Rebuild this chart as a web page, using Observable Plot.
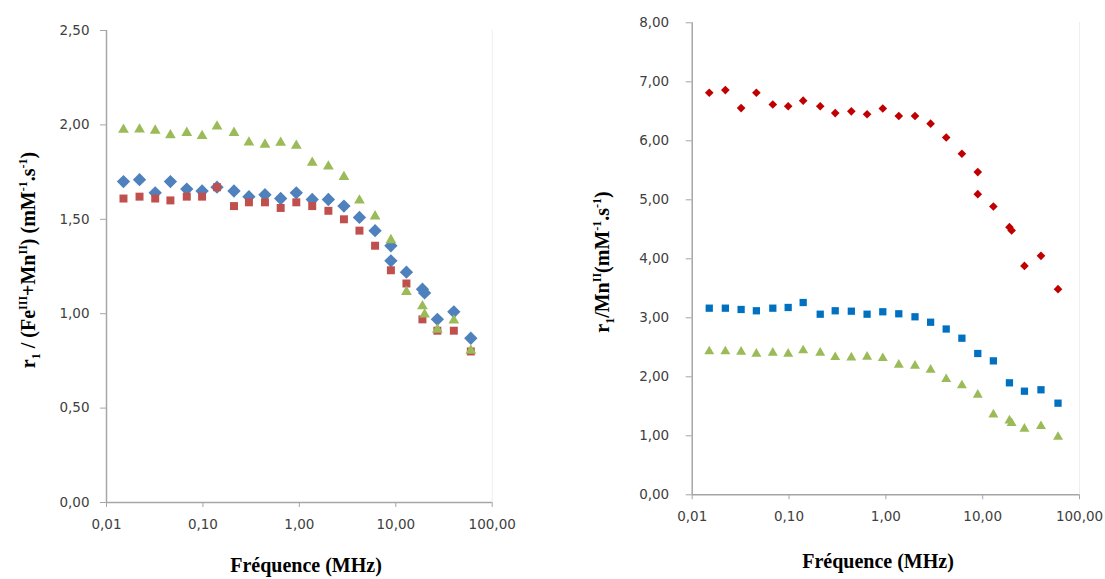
<!DOCTYPE html>
<html>
<head>
<meta charset="utf-8">
<script src="https://cdn.jsdelivr.net/npm/d3@7"></script>
<script src="https://cdn.jsdelivr.net/npm/@observablehq/plot@0.6"></script>
<style>
  html, body { margin: 0; padding: 0; background: #fff; }
  #wrap { position: relative; width: 1105px; height: 579px; overflow: hidden; background: #fff; }
  .panel { position: absolute; top: 0; }
  .ttl { position: absolute; font-family: "Liberation Serif", "Times New Roman", serif; font-weight: bold;
         font-size: 20px; line-height: 1; white-space: nowrap; color: #000; }
  .ytitle { transform: translate(-50%, -50%) rotate(-90deg); }
  .xtitle { transform: translate(-50%, -50%); }
  .ttl sup, .ttl sub { font-size: 0.6em; line-height: 0; }
</style>
</head>
<body>
<div id="wrap"></div>
<script>
// ---------- data ----------
const freq = [0.015, 0.022, 0.032, 0.046, 0.068, 0.098, 0.14, 0.21, 0.30, 0.44, 0.64, 0.93,
              1.36, 2.0, 2.9, 4.2, 6.1, 8.9, 8.9, 12.9, 18.9, 19.9, 27, 40, 60];
const xTicks = [0.01, 0.1, 1, 10, 100];

// left panel : r1 / (Fe(III)+Mn(II))
const leftDiamond  = [1.70, 1.71, 1.64, 1.70, 1.66, 1.65, 1.67, 1.65, 1.62, 1.63, 1.61, 1.64,
                      1.605, 1.605, 1.57, 1.51, 1.44, 1.36, 1.28, 1.22, 1.13, 1.11, 0.97, 1.01, 0.87];
const leftSquare   = [1.61, 1.62, 1.61, 1.60, 1.62, 1.62, 1.67, 1.57, 1.59, 1.59, 1.56, 1.59,
                      1.57, 1.545, 1.50, 1.44, 1.36, 1.23, null, 1.16, 0.97, null, 0.91, 0.91, 0.80];
const leftTriangle = [1.975, 1.976, 1.97, 1.946, 1.958, 1.942, 1.992, 1.958, 1.907, 1.896, 1.906, 1.89,
                      1.80, 1.78, 1.724, 1.60, 1.516, 1.39, null, 1.116, 1.04, 0.996, 0.916, 0.964, 0.805];
const leftYTicks = [0, 0.5, 1, 1.5, 2, 2.5];

// right panel : r1 / Mn(II)
const rightDiamond  = [6.815, 6.86, 6.555, 6.815, 6.615, 6.585, 6.68, 6.585, 6.47, 6.50, 6.45, 6.547,
                       6.42, 6.42, 6.29, 6.056, 5.78, 5.47, 5.095, 4.886, 4.536, 4.48, 3.88, 4.05, 3.485];
const rightSquare   = [3.163, 3.163, 3.141, 3.119, 3.163, 3.175, 3.259, 3.061, 3.119, 3.112, 3.061, 3.102,
                       3.068, 3.017, 2.925, 2.81, 2.654, 2.395, null, 2.27, 1.898, null, 1.756, 1.78, 1.553];
const rightTriangle = [2.43, 2.43, 2.424, 2.39, 2.407, 2.39, 2.446, 2.407, 2.332, 2.327, 2.339, 2.315,
                       2.203, 2.186, 2.119, 1.96, 1.853, 1.695, null, 1.361, 1.259, 1.214, 1.119, 1.163, 0.98];
const rightYTicks = [0, 1, 2, 3, 4, 5, 6, 7, 8];

// ---------- helpers ----------
const fmt = d => d3.format(".2f")(d).replace(".", ",");
const rows = arr => freq.map((f, i) => ({f, v: arr[i]})).filter(d => d.v != null);
const axisCol = "#a6a6a6";

function panel(o) {
  return Plot.plot({
    width: o.width, height: 579,
    marginLeft: o.ml, marginRight: o.mr, marginTop: o.mt, marginBottom: o.mb,
    style: {fontFamily: "DejaVu Sans", fontSize: "13.5px", color: "#404040", background: "transparent", overflow: "visible"},
    x: {type: "log", domain: [0.01, 100]},
    y: {domain: o.yDomain},
    marks: [
      Plot.ruleX([100], {stroke: "#eeeeee", strokeWidth: 1}),
      Plot.axisY({ticks: o.yTicks, tickFormat: fmt, tickSize: 6, tickPadding: o.yPad, stroke: axisCol, label: null}),
      Plot.axisX({ticks: xTicks, tickFormat: fmt, tickSize: 5, tickPadding: 12, stroke: axisCol, label: null}),
      Plot.ruleX([0.01], {stroke: axisCol, strokeWidth: 1.5}),
      Plot.ruleY([o.yDomain[0]], {stroke: axisCol, strokeWidth: 1.5}),
      ...o.series.map(s => Plot.dot(rows(s.data), {x: "f", y: "v", symbol: s.symbol, r: s.r, fill: s.color, stroke: "none"}))
    ]
  });
}

const wrap = document.getElementById("wrap");

const left = panel({
  width: 552, ml: 106, mr: 60.3, mt: 30, mb: 77, yDomain: [0, 2.5], yTicks: leftYTicks, yPad: 11,
  series: [
    {data: leftDiamond,  symbol: "diamond2", r: 6.0, color: "#4F81BD"},
    {data: leftSquare,   symbol: "square",   r: 4.5, color: "#C0504D"},
    {data: leftTriangle, symbol: "triangle", r: 4.0, color: "#9BBB59"}
  ]
});
left.classList.add("panel"); left.style.left = "0px";
wrap.appendChild(left);

const right = panel({
  width: 553, ml: 139.7, mr: 26, mt: 22.3, mb: 84.7, yDomain: [0, 8], yTicks: rightYTicks, yPad: 17,
  series: [
    {data: rightDiamond,  symbol: "diamond2", r: 3.9, color: "#C00000"},
    {data: rightSquare,   symbol: "square",   r: 4.1, color: "#0070C0"},
    {data: rightTriangle, symbol: "triangle", r: 3.7, color: "#9BBB59"}
  ]
});
right.classList.add("panel"); right.style.left = "552px";
wrap.appendChild(right);

// ---------- titles ----------
function title(html, x, y, cls) {
  const d = document.createElement("div");
  d.className = "ttl " + cls;
  d.innerHTML = html;
  d.style.left = x + "px"; d.style.top = y + "px";
  wrap.appendChild(d);
}
title("r<sub>1</sub> / (Fe<sup>III</sup>+Mn<sup>II</sup>) (mM<sup>-1</sup>.s<sup>-1</sup>)", 28, 260, "ytitle");
title("r<sub>1</sub>/Mn<sup>II</sup>(mM<sup>-1</sup>.s<sup>-1</sup>)", 602, 262, "ytitle");
title("Fréquence (MHz)", 306, 565, "xtitle");
title("Fréquence (MHz)", 878, 561, "xtitle");
</script>
</body>
</html>
